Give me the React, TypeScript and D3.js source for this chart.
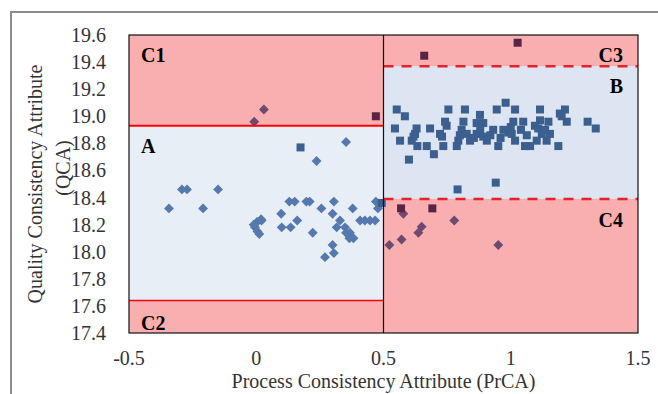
import React from "react";
import * as d3 from "d3";

// axis ticks
const xTicks = [-0.5, 0, 0.5, 1, 1.5];
const yTicks = [17.4, 17.6, 17.8, 18.0, 18.2, 18.4, 18.6, 18.8, 19.0, 19.2, 19.4, 19.6];

// zone limits
const splitX = 0.5;
const leftLimits = [17.64, 18.93];
const rightLimits = [18.39, 19.37];

// diamonds (PrCA, QCA)
const diamondX = [
  -0.343, -0.292, -0.272, -0.209, -0.15, -0.008, 0.03, 0.003, 0.019, -0.005, 0.005, 0.012, -0.01, 0.021,
  0.098, 0.1, 0.135, 0.13, 0.151, 0.161, 0.197, 0.21, 0.222, 0.237, 0.256, 0.27, 0.3, 0.3, 0.305, 0.305,
  0.316, 0.329, 0.349, 0.353, 0.353, 0.366, 0.368, 0.379, 0.382, 0.408, 0.427, 0.447, 0.467, 0.47, 0.478,
  0.488, 0.523, 0.571, 0.578, 0.637, 0.65, 0.778, 0.951,
];
const diamondY = [
  18.32, 18.46, 18.46, 18.32, 18.46, 18.96, 19.05, 18.22, 18.24, 18.18, 18.15, 18.13, 18.2, 18.23,
  18.28, 18.18, 18.18, 18.37, 18.37, 18.23, 18.37, 18.37, 18.14, 18.67, 18.32, 17.96, 18.28, 18.05, 18.37, 17.99,
  18.18, 18.23, 18.18, 18.14, 18.81, 18.1, 18.14, 18.32, 18.1, 18.23, 18.23, 18.23, 18.23, 18.37, 18.32,
  18.35, 18.05, 18.09, 18.28, 18.14, 18.185, 18.23, 18.05,
];

// squares (PrCA, QCA)
const squareX = [
  0.174, 0.493, 0.47, 0.569, 0.692, 0.66, 1.027, 0.791, 0.941,
  0.552, 0.584, 0.545, 0.565, 0.6, 0.63, 0.624, 0.611, 0.633, 0.618,
  0.683, 0.67, 0.698, 0.755, 0.742, 0.722, 0.735, 0.748, 0.73,
  0.82, 0.814, 0.807, 0.794, 0.788, 0.827, 0.84, 0.8,
  0.879, 0.866, 0.892, 0.866, 0.892, 0.906, 0.855, 0.88,
  0.945, 0.98, 0.931, 0.951, 0.971, 0.92, 0.96, 0.99,
  1.017, 1.01, 1.004, 1.017, 1.0, 1.049, 1.063, 1.076, 1.056, 1.04,
  1.115, 1.115, 1.108, 1.122, 1.102, 1.095, 1.148, 1.154, 1.141, 1.135,
  1.193, 1.213, 1.22, 1.187, 1.2, 1.302, 1.334,
];
const squareY = [
  18.77, 18.36, 19.0, 18.32, 18.32, 19.447, 19.543, 18.46, 18.51,
  19.05, 19.0, 18.91, 18.82, 18.68, 18.91, 18.87, 18.82, 18.78, 18.85,
  18.91, 18.78, 18.72, 19.05, 18.96, 18.87, 18.78, 18.93, 18.85,
  19.05, 18.96, 18.9, 18.82, 18.78, 18.87, 18.82, 18.86,
  19.01, 18.95, 18.95, 18.87, 18.85, 18.82, 18.84, 18.9,
  19.05, 19.1, 18.9, 18.78, 18.9, 18.86, 18.84, 18.88,
  19.05, 18.96, 18.87, 18.82, 18.92, 18.96, 18.86, 18.78, 18.78, 18.9,
  19.05, 18.97, 18.91, 18.87, 18.82, 18.93, 18.96, 18.87, 18.82, 18.9,
  19.02, 19.05, 18.96, 18.78, 19.0, 18.96, 18.91,
];

const font = '"Liberation Serif", "Times New Roman", serif';
const pink = "#F9AFAF";

export default function App() {
  const left = 129, right = 638, top = 35, bottom = 333;
  const x = d3.scaleLinear().domain([-0.5, 1.5]).range([left, right]);
  const y = d3.scaleLinear().domain([17.4, 19.6]).range([bottom, top]);

  const inPink = (px: number, py: number) => {
    const lim = px < splitX ? leftLimits : rightLimits;
    return py > lim[1] || py < lim[0];
  };

  const diamonds = diamondX.map((v, i) => ({ px: v, py: diamondY[i] }));
  const squares = squareX.map((v, i) => ({ px: v, py: squareY[i] }));

  const xm = x(splitX);

  return (
    <svg width={658} height={394} style={{ position: "absolute", left: 0, top: 0 }} fontFamily={font}>
      <rect x={0} y={0} width={658} height={394} fill="#fff" />
      <rect x={11} y={12} width={700} height={500} fill="none" stroke="#8c8c8c" strokeWidth={2} />

      {/* zones */}
      <rect x={left} y={top} width={xm - left} height={bottom - top} fill={pink} />
      <rect x={left} y={y(leftLimits[1])} width={xm - left} height={y(leftLimits[0]) - y(leftLimits[1])} fill="#E8EEF6" />
      <rect x={xm} y={top} width={right - xm} height={bottom - top} fill={pink} />
      <rect x={xm} y={y(rightLimits[1])} width={right - xm} height={y(rightLimits[0]) - y(rightLimits[1])} fill="#DCE5F1" />

      {/* points */}
      {diamonds.map((d, i) => (
        <rect key={"d" + i} x={-3.5} y={-3.5} width={7} height={7}
          transform={`translate(${x(d.px)},${y(d.py)}) rotate(45)`}
          fill={inPink(d.px, d.py) ? "#6E4A72" : "#5579AE"} />
      ))}
      {squares.map((d, i) => (
        <rect key={"s" + i} x={x(d.px) - 4} y={y(d.py) - 4} width={8} height={8}
          fill={inPink(d.px, d.py) ? "#5A2447" : "#3B5F8F"} />
      ))}

      {/* limit lines */}
      <line x1={left} x2={xm} y1={y(leftLimits[1])} y2={y(leftLimits[1])} stroke="#FF0000" strokeWidth={2} />
      <line x1={left} x2={xm} y1={y(leftLimits[0])} y2={y(leftLimits[0])} stroke="#FF0000" strokeWidth={1.5} />
      <line x1={xm} x2={right} y1={y(rightLimits[1])} y2={y(rightLimits[1])} stroke="#E8202A" strokeWidth={2.5} strokeDasharray="10,8" />
      <line x1={xm} x2={right} y1={y(rightLimits[0])} y2={y(rightLimits[0])} stroke="#E8202A" strokeWidth={2.5} strokeDasharray="10,8" />
      <line x1={xm} x2={xm} y1={top} y2={bottom} stroke="#111" strokeWidth={1.2} />
      <rect x={left} y={top} width={right - left} height={bottom - top} fill="none" stroke="#111" strokeWidth={1.2} />

      {/* zone labels */}
      <g fontWeight="bold" fontSize={20} fill="#000">
        <text x={141} y={62}>C1</text>
        <text x={141} y={153}>A</text>
        <text x={141} y={330}>C2</text>
        <text x={623} y={62} textAnchor="end">C3</text>
        <text x={623} y={93} textAnchor="end">B</text>
        <text x={623} y={227} textAnchor="end">C4</text>
      </g>

      {/* ticks */}
      <g fontSize={20} fill="#333">
        {yTicks.map(t => (
          <text key={t} x={106} y={y(t)} dy="0.35em" textAnchor="end">{t.toFixed(1)}</text>
        ))}
        {xTicks.map(t => (
          <text key={t} x={x(t)} y={365} textAnchor="middle">{String(t)}</text>
        ))}
      </g>

      {/* axis titles */}
      <text x={(left + right) / 2} y={388} textAnchor="middle" fontSize={20} fill="#333">
        Process Consistency Attribute (PrCA)
      </text>
      <text transform="translate(35,184) rotate(-90)" dy="0.35em" textAnchor="middle" fontSize={20} fill="#333">
        Quality Consistency Attribute
      </text>
      <text transform="translate(63,168) rotate(-90)" dy="0.35em" textAnchor="middle" fontSize={20} fill="#333">
        (QCA)
      </text>
    </svg>
  );
}
